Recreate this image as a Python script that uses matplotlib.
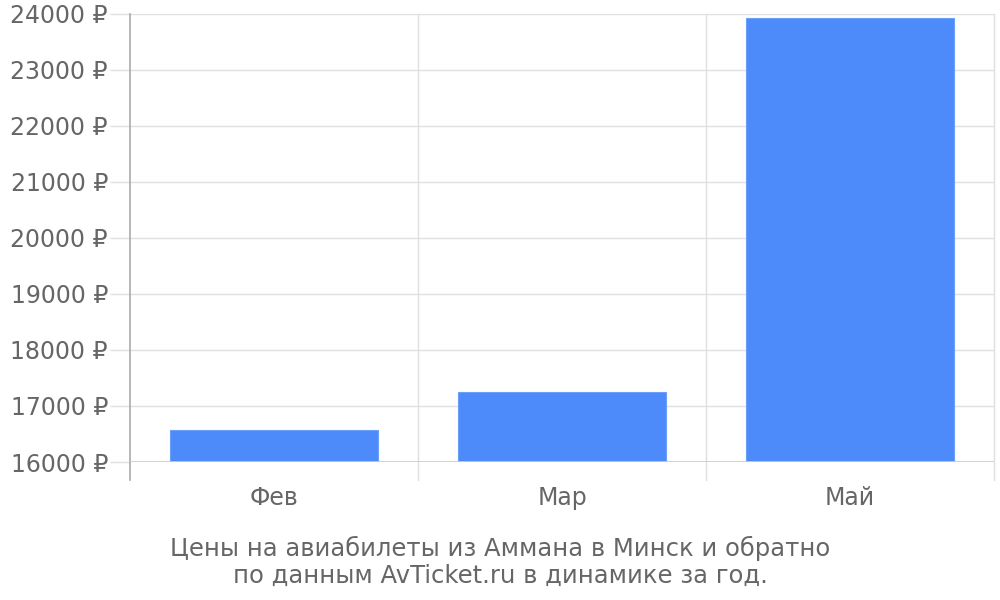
import matplotlib
matplotlib.use('Agg')
import matplotlib.pyplot as plt

# data
months = ['Фев', 'Мар', 'Май']
prices = [16580, 17250, 23930]
y_ticks = [16000, 17000, 18000, 19000, 20000, 21000, 22000, 23000, 24000]
caption_lines = ['Цены на авиабилеты из Аммана в Минск и обратно',
                 'по данным AvTicket.ru в динамике за год.']

text_color = '#666666'
grid_color = '#e0e0e0'


def draw_chart():
    fig = plt.figure(figsize=(10, 6), dpi=100)
    ax = fig.add_axes([0.13, 0.23, 0.864, 0.7467])

    x = list(range(len(months)))
    ax.bar(x, prices, width=0.72, color='#4c8bf9', edgecolor='#6a9ffa',
           linewidth=0.8, zorder=3)

    ax.set_xlim(-0.5, len(months) - 0.5)
    ax.set_ylim(y_ticks[0], y_ticks[-1])

    # horizontal grid
    ax.set_yticks(y_ticks)
    ax.set_yticklabels([f'{v} ₽' for v in y_ticks])
    ax.yaxis.grid(True, color=grid_color, linewidth=1, zorder=0)
    ax.axhline(y_ticks[0], color='#cccccc', linewidth=1.2, zorder=4)

    # category separators, running a little below the axis
    for b in [i - 0.5 for i in range(len(months) + 1)][1:]:
        ax.axvline(b, ymin=-0.04, ymax=1, color=grid_color, linewidth=1,
                   clip_on=False, zorder=0)

    ax.set_xticks(x)
    ax.set_xticklabels(months)

    for side in ['top', 'right', 'bottom']:
        ax.spines[side].set_visible(False)
    ax.spines['left'].set_color('#aaaaaa')
    ax.spines['left'].set_linewidth(1.2)
    ax.spines['left'].set_bounds(y_ticks[0] - 8000 * 0.04, y_ticks[-1])

    ax.tick_params(axis='y', length=14.4, width=1, color=grid_color,
                   pad=1.5, labelsize=17, labelcolor=text_color)
    ax.tick_params(axis='x', length=0, pad=17, labelsize=17,
                   labelcolor=text_color)

    # two-line caption under the chart
    fig.text(0.5, 1 - 548 / 600, caption_lines[0], ha='center', va='center',
             fontsize=17.5, color=text_color)
    fig.text(0.5, 1 - 576 / 600, caption_lines[1], ha='center', va='center',
             fontsize=17.5, color=text_color)

    fig.savefig('out.png', dpi=100)


def main():
    draw_chart()


if __name__ == "__main__":
    main()
